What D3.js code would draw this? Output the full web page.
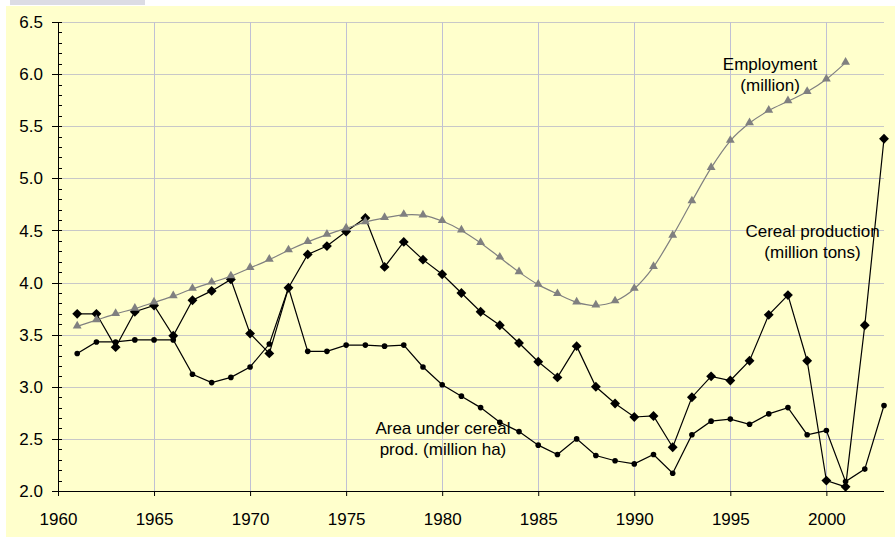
<!DOCTYPE html>
<html>
<head>
<meta charset="utf-8">
<script src="https://cdn.jsdelivr.net/npm/d3@7"></script>
<style>
  body { margin: 0; background: #fff; }
  svg { display: block; font-family: "Liberation Sans", Arial, sans-serif; }
</style>
</head>
<body>
<div id="chart_container"></div>
<script>
// data
var years = d3.range(1961, 2004);

var employment = [3.58, 3.64, 3.70, 3.75, 3.81, 3.87, 3.94, 4.00, 4.06, 4.14,
	4.22, 4.31, 4.39, 4.46, 4.52, 4.58, 4.62, 4.65, 4.645, 4.59,
	4.50, 4.38, 4.24, 4.10, 3.98, 3.89, 3.81, 3.78, 3.82, 3.94,
	4.15, 4.45, 4.78, 5.10, 5.36, 5.53, 5.65, 5.74, 5.83, 5.95,
	6.11, null, null];

var cereal = [3.70, 3.70, 3.38, 3.72, 3.78, 3.49, 3.83, 3.92, 4.03, 3.51,
	3.32, 3.95, 4.27, 4.35, 4.49, 4.62, 4.15, 4.39, 4.22, 4.08,
	3.90, 3.72, 3.59, 3.42, 3.24, 3.09, 3.39, 3.00, 2.84, 2.71,
	2.72, 2.42, 2.90, 3.10, 3.06, 3.25, 3.69, 3.88, 3.25, 2.10,
	2.04, 3.59, 5.38];

var area = [3.32, 3.43, 3.43, 3.45, 3.45, 3.45, 3.12, 3.04, 3.09, 3.19,
	3.41, 3.95, 3.34, 3.34, 3.40, 3.40, 3.39, 3.40, 3.19, 3.02,
	2.91, 2.80, 2.66, 2.57, 2.44, 2.35, 2.50, 2.34, 2.29, 2.26,
	2.35, 2.17, 2.54, 2.67, 2.69, 2.64, 2.74, 2.80, 2.54, 2.58,
	2.09, 2.21, 2.82];

var xTicks = d3.range(1960, 2001, 5);
var yTicks = [2.0, 2.5, 3.0, 3.5, 4.0, 4.5, 5.0, 5.5, 6.0, 6.5];
var yMinorTicks = d3.range(20, 66).map(function(d){ return d / 10; });

var labels = [
	{ lines: ["Employment", "(million)"], year: 1997.07, value: 6.04 },
	{ lines: ["Cereal production", "(million tons)"], year: 1999.28, value: 4.44 },
	{ lines: ["Area under cereal", "prod. (million ha)"], year: 1980.04, value: 2.55 }
];

var chart_width = 895, chart_height = 539;
var plot_left = 58, plot_right = 884, plot_top = 22, plot_bottom = 491;
var fontSize = 17;

var svgContainer = d3.select("#chart_container").append("svg")
	.attr("width", chart_width)
	.attr("height", chart_height);

// backgrounds
svgContainer.append("rect")
	.attr("x", 6).attr("y", 6)
	.attr("width", chart_width - 6).attr("height", chart_height - 8)
	.attr("fill", "#ffffcc");
svgContainer.append("rect")
	.attr("x", 10).attr("y", 0)
	.attr("width", 135).attr("height", 5)
	.attr("fill", "#dcdce4");

var x = d3.scaleLinear().domain([1960, 2003]).range([plot_left, plot_right]);
var y = d3.scaleLinear().domain([2.0, 6.5]).range([plot_bottom, plot_top]);

// gridlines
svgContainer.append("g").selectAll("line")
	.data(yTicks.slice(1))
	.enter().append("line")
	.attr("x1", plot_left).attr("x2", plot_right)
	.attr("y1", function(d){ return Math.round(y(d)) + 0.5; })
	.attr("y2", function(d){ return Math.round(y(d)) + 0.5; })
	.attr("stroke", "#c8c8c8")
	.attr("stroke-width", 1);

svgContainer.append("g").selectAll("line")
	.data(xTicks.slice(1))
	.enter().append("line")
	.attr("x1", function(d){ return Math.round(x(d)) + 0.5; })
	.attr("x2", function(d){ return Math.round(x(d)) + 0.5; })
	.attr("y1", plot_top).attr("y2", plot_bottom)
	.attr("stroke", "#c0c0d4")
	.attr("stroke-width", 1);

// y axis: minor ticks inside, major ticks cross
var yAxisG = svgContainer.append("g");
yAxisG.append("line")
	.attr("x1", plot_left + 0.5).attr("x2", plot_left + 0.5)
	.attr("y1", plot_top).attr("y2", plot_bottom)
	.attr("stroke", "#000");
yAxisG.selectAll(".minor")
	.data(yMinorTicks)
	.enter().append("line")
	.attr("class", "minor")
	.attr("x1", plot_left).attr("x2", plot_left + 4)
	.attr("y1", function(d){ return Math.round(y(d)) + 0.5; })
	.attr("y2", function(d){ return Math.round(y(d)) + 0.5; })
	.attr("stroke", "#000");
yAxisG.selectAll(".major")
	.data(yTicks)
	.enter().append("line")
	.attr("class", "major")
	.attr("x1", plot_left - 6).attr("x2", plot_left + 4)
	.attr("y1", function(d){ return Math.round(y(d)) + 0.5; })
	.attr("y2", function(d){ return Math.round(y(d)) + 0.5; })
	.attr("stroke", "#000");
yAxisG.selectAll("text")
	.data(yTicks)
	.enter().append("text")
	.attr("x", 43)
	.attr("y", function(d){ return y(d); })
	.attr("dy", "0.36em")
	.attr("text-anchor", "end")
	.attr("font-size", fontSize)
	.text(function(d){ return d3.format(".1f")(d); });

// x axis
var xAxis = d3.axisBottom(x)
	.tickValues(xTicks)
	.tickSize(5)
	.tickPadding(17)
	.tickFormat(d3.format("d"));
var xAxisG = svgContainer.append("g")
	.attr("transform", "translate(0," + plot_bottom + ")")
	.call(xAxis);
xAxisG.select(".domain").attr("d", "M" + plot_left + ",0.5H" + plot_right);
xAxisG.selectAll("text")
	.attr("font-size", fontSize)
	.attr("font-family", "Liberation Sans, Arial, sans-serif")
	.attr("fill", "#000");

// series
function toPoints(values){
	return years.map(function(yr, i){ return { year: yr, value: values[i] }; })
		.filter(function(d){ return d.value != null; });
}

var straightLine = d3.line()
	.x(function(d){ return x(d.year); })
	.y(function(d){ return y(d.value); });

var smoothLine = d3.line()
	.curve(d3.curveCatmullRom.alpha(0))
	.x(function(d){ return x(d.year); })
	.y(function(d){ return y(d.value); });

var areaPts = toPoints(area);
var cerealPts = toPoints(cereal);
var empPts = toPoints(employment);

svgContainer.append("path")
	.attr("d", straightLine(areaPts))
	.attr("fill", "none")
	.attr("stroke", "#000")
	.attr("stroke-width", 1.2);
svgContainer.append("g").selectAll("circle")
	.data(areaPts)
	.enter().append("circle")
	.attr("cx", function(d){ return x(d.year); })
	.attr("cy", function(d){ return y(d.value); })
	.attr("r", 2.8)
	.attr("fill", "#000");

svgContainer.append("path")
	.attr("d", straightLine(cerealPts))
	.attr("fill", "none")
	.attr("stroke", "#000")
	.attr("stroke-width", 1.2);
svgContainer.append("g").selectAll("path")
	.data(cerealPts)
	.enter().append("path")
	.attr("d", d3.symbol().type(d3.symbolDiamond2).size(62))
	.attr("transform", function(d){ return "translate(" + x(d.year) + "," + y(d.value) + ")"; })
	.attr("fill", "#000");

svgContainer.append("path")
	.attr("d", smoothLine(empPts))
	.attr("fill", "none")
	.attr("stroke", "#808080")
	.attr("stroke-width", 1.2);
svgContainer.append("g").selectAll("path")
	.data(empPts)
	.enter().append("path")
	.attr("d", d3.symbol().type(d3.symbolTriangle).size(34))
	.attr("transform", function(d){ return "translate(" + x(d.year) + "," + (y(d.value) - 0.5) + ")"; })
	.attr("fill", "#808080");

// series labels
labels.forEach(function(lb){
	var t = svgContainer.append("text")
		.attr("x", x(lb.year))
		.attr("y", y(lb.value))
		.attr("text-anchor", "middle")
		.attr("font-size", fontSize);
	lb.lines.forEach(function(line, i){
		t.append("tspan")
			.attr("x", x(lb.year))
			.attr("dy", i == 0 ? 0 : 21)
			.text(line);
	});
});
</script>
</body>
</html>
